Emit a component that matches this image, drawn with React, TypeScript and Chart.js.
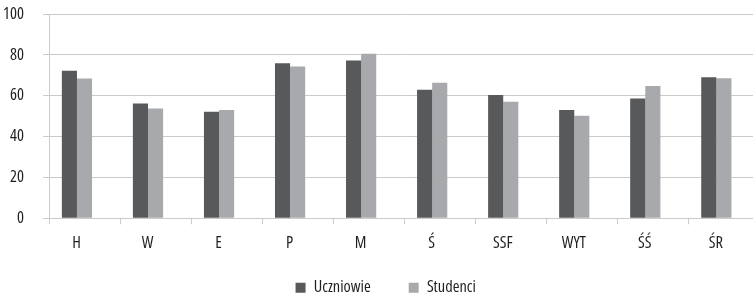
import React, { useEffect, useRef } from "react";
import { Chart, registerables } from "chart.js";

Chart.register(...registerables);

const categories = ["H", "W", "E", "P", "M", "Ś", "SSF", "WYT", "ŚŚ", "ŚR"];
const uczniowie = [72.2, 56.2, 52.2, 75.9, 77.2, 62.9, 60.3, 53.0, 58.7, 69.1];
const studenci = [68.4, 53.7, 53.0, 74.3, 80.5, 66.3, 57.1, 50.2, 64.7, 68.6];
const spacer = [0, 0, 0, 0, 0, 0, 0, 0, 0, 0];
const yTicks = [0, 20, 40, 60, 80, 100];

const FONT = "'Open Sans', 'DejaVu Sans', sans-serif";
const FONT_OPTS = { family: FONT, size: 16.4, weight: "condensed" as any };
const GRID = "#cbcbcb";
const TEXT = "#231f20";

// let axis labels extend beyond their narrow layout boxes without being clipped
const unclipLabels = {
  id: "unclipLabels",
  afterLayout(chart: any) {
    const y = chart.scales.y;
    const x = chart.scales.x;
    if (y) y.left = 0;
    if (x) x.bottom = chart.height;
  },
};

export default function App() {
  const ref = useRef<HTMLCanvasElement | null>(null);

  useEffect(() => {
    document.body.style.margin = "0";
    document.body.style.overflow = "hidden";
    const canvas = ref.current;
    if (!canvas) return;
    const legendPad = 38;
    const chart = new Chart(canvas, {
      type: "bar",
      data: {
        labels: categories,
        datasets: [
          {
            label: "Uczniowie",
            data: uczniowie,
            backgroundColor: "#58595b",
            borderWidth: 0,
          },
          {
            label: "Studenci",
            data: studenci,
            backgroundColor: "#a7a9ac",
            borderWidth: 0,
          },
          {
            label: "",
            data: spacer,
            backgroundColor: "rgba(0,0,0,0)",
            borderWidth: 0,
          },
        ],
      },
      plugins: [unclipLabels],
      options: {
        animation: false,
        responsive: true,
        maintainAspectRatio: false,
        datasets: {
          bar: {
            barPercentage: 1,
            categoryPercentage: 0.638,
          },
        },
        layout: {
          padding: { top: 14, right: 0.6, left: 12, bottom: 0 },
        },
        plugins: {
          tooltip: { enabled: false },
          title: { display: false },
          legend: {
            display: true,
            position: "bottom",
            labels: {
              boxWidth: 10,
              boxHeight: 10,
              padding: legendPad,
              color: TEXT,
              font: FONT_OPTS,
              filter: (item: any) => item.text !== "",
            },
          },
        },
        scales: {
          x: {
            grid: {
              display: true,
              drawOnChartArea: false,
              drawTicks: true,
              tickLength: 6,
              color: GRID,
              offset: true,
            },
            border: { display: true, color: GRID },
            ticks: {
              color: TEXT,
              font: FONT_OPTS,
              padding: 9,
              labelOffset: -8,
              maxRotation: 0,
              autoSkip: false,
            },
            afterFit: (scale: any) => {
              scale.height = 280 - legendPad - 218.7;
              scale.paddingLeft = 0;
              scale.paddingRight = 0;
            },
          },
          y: {
            min: 0,
            max: 100,
            afterBuildTicks: (scale: any) => {
              scale.ticks = yTicks.map((v) => ({ value: v }));
            },
            grid: {
              color: GRID,
              tickLength: 6,
              drawTicks: true,
            },
            border: { display: true, color: GRID },
            ticks: {
              color: TEXT,
              font: FONT_OPTS,
              padding: 19,
            },
            afterFit: (scale: any) => {
              scale.width = 37;
              scale.paddingTop = 0;
              scale.paddingBottom = 0;
            },
          },
        },
      },
    });
    return () => chart.destroy();
  }, []);

  return (
    <div style={{ width: 753, height: 299, overflow: "hidden", position: "relative" }}>
      <div style={{ width: 760, height: 306, position: "relative" }}>
        <canvas ref={ref} />
      </div>
    </div>
  );
}
